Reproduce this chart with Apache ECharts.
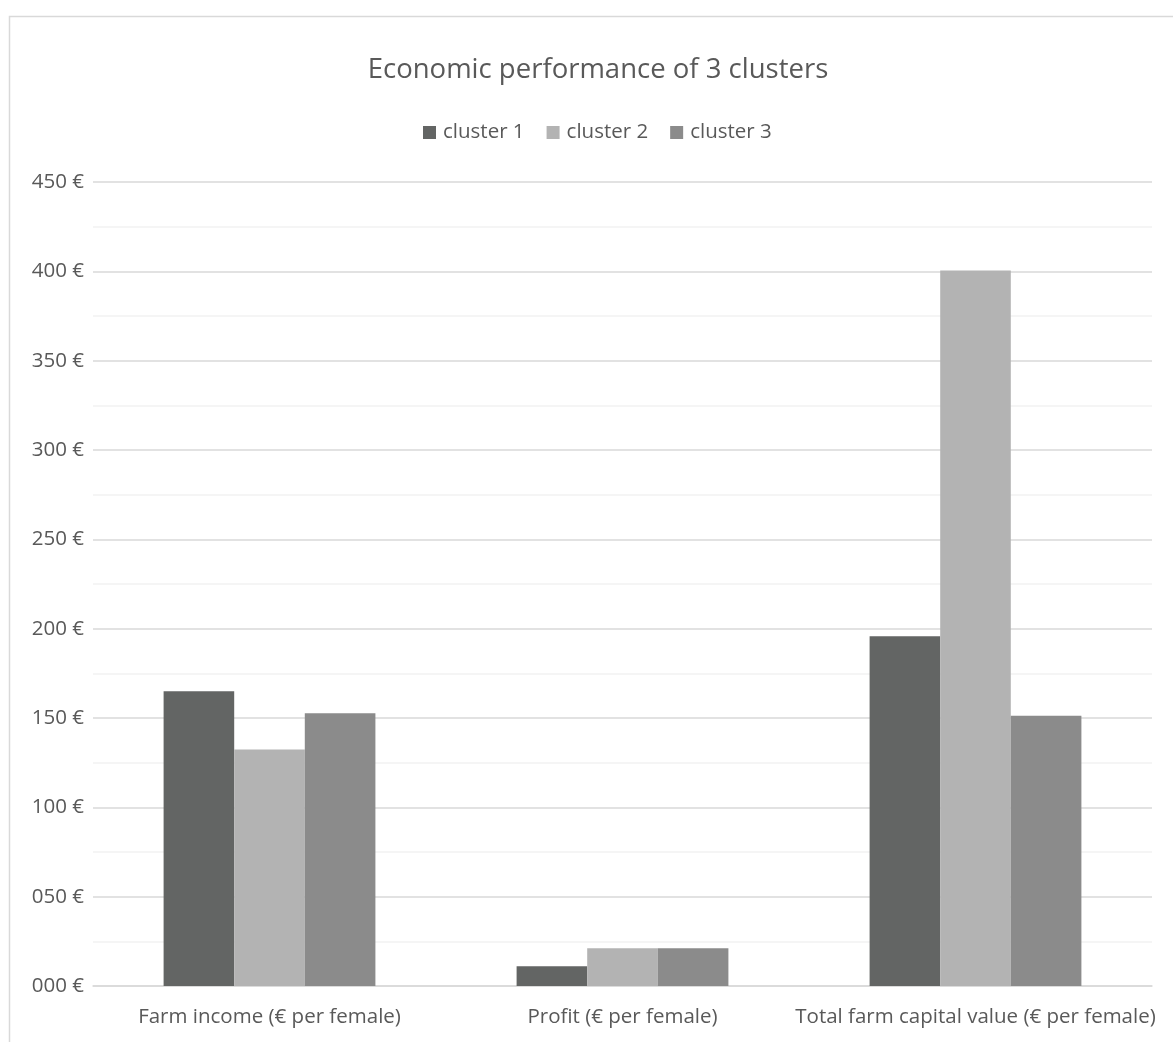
<!DOCTYPE html>
<html>
<head>
<meta charset="utf-8">
<script src="https://cdn.jsdelivr.net/npm/echarts@6/dist/echarts.min.js"></script>
<style>
html,body{margin:0;padding:0;background:#fff;}
#chart{width:1173px;height:1042px;}
</style>
</head>
<body>
<div id="chart"></div>
<script>
const categories = ['Farm income (€ per female)', 'Profit (€ per female)', 'Total farm capital value (€ per female)'];
const cluster1 = [165, 11, 195.7];
const cluster2 = [132.4, 21.1, 400.5];
const cluster3 = [152.6, 21.1, 151.3];
const seriesNames = ['cluster 1', 'cluster 2', 'cluster 3'];
const colors = ['#636564', '#b3b3b3', '#8b8b8b'];

const chart = echarts.init(document.getElementById('chart'));
const font = '"Open Sans", sans-serif';
function pad(v){ let s = String(Math.round(v)); while (s.length < 3) s = '0' + s; return s + ' €'; }
chart.setOption({
  animation: false,
  backgroundColor: '#fff',
  textStyle: { fontFamily: font },
  graphic: [{
    type: 'rect', left: 7, top: 14, silent: true,
    shape: { width: 1200, height: 1100 },
    style: { fill: 'none', stroke: '#d9d9d9', lineWidth: 1.5 }
  }],
  title: {
    text: 'Economic performance of 3 clusters',
    left: 593, top: 51, textAlign: 'center',
    textStyle: { fontFamily: font, fontSize: 27.5, fontWeight: 'normal', color: '#595959' }
  },
  legend: {
    data: seriesNames,
    left: 418, top: 117,
    icon: 'rect', itemWidth: 13, itemHeight: 13, itemGap: 22,
    textStyle: { fontFamily: font, fontSize: 20.5, color: '#595959', padding: [0,0,0,2] }
  },
  grid: { left: 93, right: 21, top: 182, bottom: 56, containLabel: false },
  xAxis: {
    type: 'category', data: categories,
    axisLine: { lineStyle: { color: '#d9d9d9', width: 1.5 } },
    axisTick: { show: false },
    axisLabel: { fontFamily: font, fontSize: 20.5, color: '#595959', margin: 21, interval: 0, hideOverlap: false }
  },
  yAxis: {
    type: 'value', min: 0, max: 450, interval: 50,
    axisLine: { show: false }, axisTick: { show: false },
    axisLabel: { fontFamily: font, fontSize: 20.5, color: '#595959', margin: 9, formatter: pad },
    splitLine: { lineStyle: { color: '#d9d9d9', width: 1.5 } },
    minorTick: { show: false, splitNumber: 2 },
    minorSplitLine: { show: true, lineStyle: { color: '#f2f2f2', width: 1.5 } }
  },
  series: [cluster1, cluster2, cluster3].map((d, i) => ({
    name: seriesNames[i], type: 'bar', data: d,
    itemStyle: { color: colors[i] },
    barGap: '0%', barCategoryGap: '40%'
  }))
});
</script>
</body>
</html>
